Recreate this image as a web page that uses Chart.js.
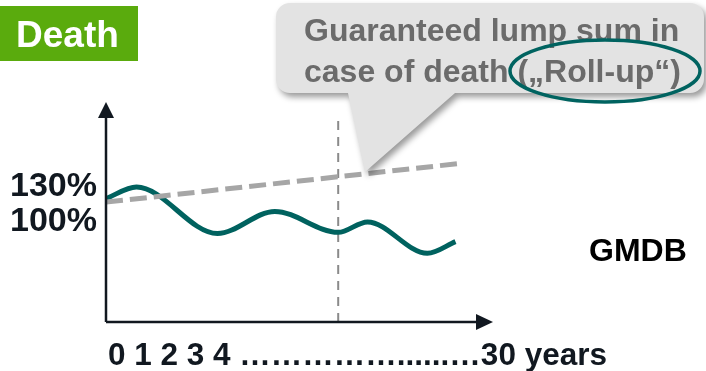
<!DOCTYPE html>
<html>
<head>
<meta charset="utf-8">
<script src="https://cdn.jsdelivr.net/npm/chart.js@4/dist/chart.umd.min.js"></script>
<style>
  html, body { margin: 0; padding: 0; background: #ffffff; }
  #wrap { width: 706px; height: 371px; position: relative; }
  canvas { display: block; }
</style>
</head>
<body>
<div id="wrap"><canvas id="c" width="706" height="371"></canvas></div>
<script>
// Policy years on the horizontal axis (turning points of the fund value)
const fundYears = [0, 2.6, 9.5, 14.4, 19.8, 22.3, 27.4, 29.8];
// Fund value of the contract (% of premium), fluctuating with the market
const fundValues = [120, 130, 90, 109, 91, 100, 73, 83];
// Guaranteed minimum death benefit, rolled up each year
const gmdbYears = [0, 30];
const gmdbValues = [117, 150];
// Moment of death marked on the time axis
const deathYear = [19.8, 19.8];
const deathMarker = [14, 190];
// Labelled levels on the vertical axis
const yTickValues = [100, 130];

const title = 'Death';
const calloutLines = ['Guaranteed lump sum in', 'case of death („Roll-up“)'];
const seriesLabel = 'GMDB';
const xAxisLabel = '0 1 2 3 4 ……………......…30 years';

const toPoints = (xs, ys) => xs.map((x, i) => ({ x: x, y: ys[i] }));

const INK = '#111820';
const BOLD = 'bold {s}px "Liberation Sans", Arial, sans-serif';
const font = s => BOLD.replace('{s}', s);

const decorations = {
  id: 'decorations',
  afterDraw(chart) {
    const ctx = chart.ctx;
    const a = chart.chartArea;
    ctx.save();

    // axes with arrow heads
    ctx.strokeStyle = INK;
    ctx.fillStyle = INK;
    ctx.lineWidth = 2.5;
    ctx.beginPath();
    ctx.moveTo(a.left, a.bottom);
    ctx.lineTo(a.left, a.top + 14);
    ctx.moveTo(a.left, a.bottom);
    ctx.lineTo(a.right - 15, a.bottom);
    ctx.stroke();
    ctx.beginPath();
    ctx.moveTo(a.left, a.top);
    ctx.lineTo(a.left - 8, a.top + 16);
    ctx.lineTo(a.left + 8, a.top + 16);
    ctx.closePath();
    ctx.fill();
    ctx.beginPath();
    ctx.moveTo(a.right, a.bottom);
    ctx.lineTo(a.right - 17, a.bottom - 8);
    ctx.lineTo(a.right - 17, a.bottom + 8);
    ctx.closePath();
    ctx.fill();

    // callout bubble with its pointer
    const bx = 276, by = 3, bw = 428, bh = 90, r = 14;
    ctx.save();
    ctx.shadowColor = 'rgba(0,0,0,0.40)';
    ctx.shadowBlur = 6;
    ctx.shadowOffsetX = 3;
    ctx.shadowOffsetY = 4;
    ctx.fillStyle = '#e3e3e3';
    ctx.beginPath();
    ctx.moveTo(bx + r, by);
    ctx.lineTo(bx + bw - r, by);
    ctx.arcTo(bx + bw, by, bx + bw, by + r, r);
    ctx.lineTo(bx + bw, by + bh - r);
    ctx.arcTo(bx + bw, by + bh, bx + bw - r, by + bh, r);
    ctx.lineTo(455, by + bh);
    ctx.lineTo(365, 172);
    ctx.lineTo(348, by + bh);
    ctx.lineTo(bx + r, by + bh);
    ctx.arcTo(bx, by + bh, bx, by + bh - r, r);
    ctx.lineTo(bx, by + r);
    ctx.arcTo(bx, by, bx + r, by, r);
    ctx.closePath();
    ctx.fill();
    ctx.restore();

    ctx.fillStyle = '#6b6b6b';
    ctx.font = font(32);
    ctx.textAlign = 'left';
    ctx.textBaseline = 'alphabetic';
    ctx.fillText(calloutLines[0], 304, 41);
    ctx.fillText(calloutLines[1], 304, 82);

    ctx.strokeStyle = '#006360';
    ctx.lineWidth = 3.5;
    ctx.beginPath();
    ctx.ellipse(605, 71, 95, 31, 0, 0, Math.PI * 2);
    ctx.stroke();

    // section heading
    ctx.fillStyle = '#5aab0d';
    ctx.fillRect(0, 6, 138, 55);
    ctx.fillStyle = '#ffffff';
    ctx.font = font(37);
    ctx.fillText(title, 16, 47);

    // series name and time axis caption
    ctx.fillStyle = '#000000';
    ctx.font = font(32);
    ctx.fillText(seriesLabel, 589, 261);
    ctx.fillStyle = INK;
    ctx.font = font(31.5);
    ctx.fillText(xAxisLabel, 108, 365);

    ctx.restore();
  }
};

new Chart(document.getElementById('c'), {
  type: 'line',
  data: {
    datasets: [
      {
        label: 'Guaranteed death benefit',
        data: toPoints(gmdbYears, gmdbValues),
        borderColor: '#a6a6a6',
        borderWidth: 5,
        borderDash: [17, 7],
        pointRadius: 0,
        tension: 0
      },
      {
        label: 'Fund value',
        data: toPoints(fundYears, fundValues),
        borderColor: '#00625f',
        borderWidth: 5,
        pointRadius: 0,
        cubicInterpolationMode: 'monotone',
        borderJoinStyle: 'round'
      },
      {
        label: 'Death',
        data: toPoints(deathYear, deathMarker),
        borderColor: '#8a8a8a',
        borderWidth: 2,
        borderDash: [9, 7],
        pointRadius: 0,
        tension: 0
      }
    ]
  },
  options: {
    responsive: false,
    devicePixelRatio: 1,
    animation: false,
    events: [],
    layout: { padding: { left: 0, right: 213, top: 102, bottom: 49 } },
    plugins: { legend: { display: false }, tooltip: { enabled: false } },
    scales: {
      x: {
        type: 'linear',
        min: 0,
        max: 33,
        display: false
      },
      y: {
        type: 'linear',
        min: 14,
        max: 203,
        grid: { display: false, drawTicks: false },
        border: { display: false },
        afterBuildTicks: s => { s.ticks = yTickValues.map(v => ({ value: v })); },
        afterFit: s => { s.width = 106; },
        ticks: {
          padding: 9,
          color: INK,
          font: { family: '"Liberation Sans", Arial, sans-serif', size: 34, weight: 'bold' },
          callback: v => v + '%'
        }
      }
    }
  },
  plugins: [decorations]
});
</script>
</body>
</html>
